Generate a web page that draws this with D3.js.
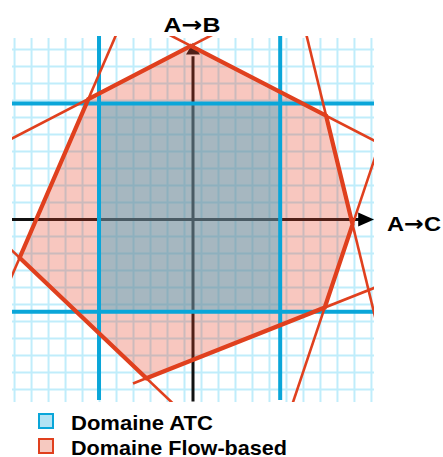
<!DOCTYPE html>
<html>
<head>
<meta charset="utf-8">
<script src="https://cdn.jsdelivr.net/npm/d3@7"></script>
<style>
  html, body { margin: 0; padding: 0; background: #fff; }
  svg { display: block; }
  text { font-family: "Liberation Sans", Arial, Helvetica, sans-serif; font-weight: bold; fill: #000; }
  .arrowglyph { font-family: "DejaVu Sans", sans-serif; font-weight: bold; }
</style>
</head>
<body>
<div id="chart"></div>
<script>
// axis labels (origin, arrow, destination)
var axisFrom = ["A", "A"];
var axisTo = ["B", "C"];

// legend entries
var legendLabels = ["Domaine ATC", "Domaine Flow-based"];

// ATC domain (box of the two exchanges)
var atcX = [-5.53, 5.13];
var atcY = [-5.42, 6.83];

// flow-based constraints, each one a straight line (segment ends)
var constraintIds = ["l1", "l7", "l6", "l5", "l4", "l3", "l2"];
var constraintX1 = [-11.0, -1.5, 6.6, 5.8, -3.53, -11.0, -11.0];
var constraintY1 = [4.58, 10.92, 11.16, -11.0, -9.65, -1.49, -4.10];
var constraintX2 = [1.5, 11.0, 10.8, 10.8, 10.8, -1.0, -4.4];
var constraintY2 = [11.05, 4.47, -6.09, 3.92, -3.97, -10.99, 11.15];

var width = 443, height = 457;

var svg = d3.select("#chart")
    .append("svg")
    .attr("width", width)
    .attr("height", height);

var x = d3.scaleLinear().domain([-10.65, 10.65]).range([12, 374]);
var y = d3.scaleLinear().domain([-10.7, 10.7]).range([401.4, 37.6]);

var red = "#e0401e";
var blue = "#0aa6d9";

svg.append("defs").append("clipPath")
    .attr("id", "plotclip")
    .append("rect")
    .attr("x", 12).attr("y", 36)
    .attr("width", 362).attr("height", 366);

var plot = svg.append("g").attr("clip-path", "url(#plotclip)");

// grid
plot.append("g")
    .selectAll("line")
    .data(d3.range(-10.5, 10.6, 1))
    .enter()
    .append("line")
    .attr("x1", function (d) { return x(d); })
    .attr("x2", function (d) { return x(d); })
    .attr("y1", 38)
    .attr("y2", 402)
    .attr("stroke", "#c0edfb")
    .attr("stroke-width", 2);

plot.append("g")
    .selectAll("line")
    .data(d3.range(-10, 10.5, 1))
    .enter()
    .append("line")
    .attr("x1", 12)
    .attr("x2", 374)
    .attr("y1", function (d) { return y(d); })
    .attr("y2", function (d) { return y(d); })
    .attr("stroke", "#c0edfb")
    .attr("stroke-width", 2);

// axes with arrow heads
plot.append("line")
    .attr("x1", x(-10.65)).attr("x2", x(9.8))
    .attr("y1", y(0)).attr("y2", y(0))
    .attr("stroke", "#111").attr("stroke-width", 3);
plot.append("line")
    .attr("x1", x(0)).attr("x2", x(0))
    .attr("y1", y(-10.7)).attr("y2", y(9.6))
    .attr("stroke", "#111").attr("stroke-width", 3);

var arrowC = d3.path();
arrowC.moveTo(x(9.72), y(0) - 7);
arrowC.lineTo(x(10.65), y(0));
arrowC.lineTo(x(9.72), y(0) + 7);
arrowC.closePath();
svg.append("path").attr("d", arrowC.toString()).attr("fill", "#000");

var arrowB = d3.path();
arrowB.moveTo(x(0) - 7, y(9.7));
arrowB.lineTo(x(0), y(10.4));
arrowB.lineTo(x(0) + 7, y(9.7));
arrowB.closePath();
plot.append("path").attr("d", arrowB.toString()).attr("fill", "#111");

// constraint lines
var constraints = constraintIds.map(function (id, i) {
    return {
        id: id,
        x1: constraintX1[i], y1: constraintY1[i],
        x2: constraintX2[i], y2: constraintY2[i]
    };
});

function intersect(a, b) {
    var d = (a.x1 - a.x2) * (b.y1 - b.y2) - (a.y1 - a.y2) * (b.x1 - b.x2);
    var t = ((a.x1 - b.x1) * (b.y1 - b.y2) - (a.y1 - b.y1) * (b.x1 - b.x2)) / d;
    return [a.x1 + t * (a.x2 - a.x1), a.y1 + t * (a.y2 - a.y1)];
}

// flow-based domain = polygon made by consecutive constraints
var domain = constraints.map(function (c, i) {
    var prev = constraints[(i + constraints.length - 1) % constraints.length];
    return intersect(prev, c);
});

var lineGen = d3.line()
    .x(function (d) { return x(d[0]); })
    .y(function (d) { return y(d[1]); });

plot.append("path")
    .datum(domain)
    .attr("d", function (d) { return lineGen(d) + "Z"; })
    .attr("fill", "#e8472a")
    .attr("fill-opacity", 0.3)
    .attr("stroke", "none");

// ATC box fill
plot.append("rect")
    .attr("x", x(atcX[0]))
    .attr("y", y(atcY[1]))
    .attr("width", x(atcX[1]) - x(atcX[0]))
    .attr("height", y(atcY[0]) - y(atcY[1]))
    .attr("fill", "rgb(66,164,193)")
    .attr("fill-opacity", 0.45);

// ATC limits
plot.append("g")
    .selectAll("line")
    .data(atcX)
    .enter()
    .append("line")
    .attr("x1", function (d) { return x(d); })
    .attr("x2", function (d) { return x(d); })
    .attr("y1", 35)
    .attr("y2", 400)
    .attr("stroke", blue)
    .attr("stroke-width", 4);

plot.append("g")
    .selectAll("line")
    .data(atcY)
    .enter()
    .append("line")
    .attr("x1", 12)
    .attr("x2", 374)
    .attr("y1", function (d) { return y(d); })
    .attr("y2", function (d) { return y(d); })
    .attr("stroke", blue)
    .attr("stroke-width", 4);

// thin constraint lines
plot.append("g")
    .selectAll("line")
    .data(constraints)
    .enter()
    .append("line")
    .attr("x1", function (d) { return x(d.x1); })
    .attr("y1", function (d) { return y(d.y1); })
    .attr("x2", function (d) { return x(d.x2); })
    .attr("y2", function (d) { return y(d.y2); })
    .attr("stroke", red)
    .attr("stroke-width", 2.6);

// thick outline of the flow-based domain
plot.append("path")
    .datum(domain)
    .attr("d", function (d) { return lineGen(d) + "Z"; })
    .attr("fill", "none")
    .attr("stroke", red)
    .attr("stroke-width", 4.2)
    .attr("stroke-linejoin", "miter");

// axis labels
var labelPos = [[163.5, 31.5, 57], [387, 230.5, 54]];

var axisText = svg.append("g")
    .selectAll("text")
    .data(axisFrom)
    .enter()
    .append("text")
    .attr("x", function (d, i) { return labelPos[i][0]; })
    .attr("y", function (d, i) { return labelPos[i][1]; })
    .attr("font-size", 21)
    .attr("textLength", function (d, i) { return labelPos[i][2]; })
    .attr("lengthAdjust", "spacingAndGlyphs");

axisText.append("tspan").text(function (d) { return d; });
axisText.append("tspan").attr("class", "arrowglyph").text("\u2192");
axisText.append("tspan").text(function (d, i) { return axisTo[i]; });

// legend
var legendFill = ["#b3e3f4", "#f6c9c0"];
var legendStroke = [blue, red];
var legendWidth = [142, 216];

var legend = svg.append("g")
    .selectAll("g")
    .data(legendLabels)
    .enter()
    .append("g")
    .attr("transform", function (d, i) { return "translate(0," + (i * 25) + ")"; });

legend.append("rect")
    .attr("x", 39)
    .attr("y", 414)
    .attr("width", 14)
    .attr("height", 14)
    .attr("fill", function (d, i) { return legendFill[i]; })
    .attr("stroke", function (d, i) { return legendStroke[i]; })
    .attr("stroke-width", 2);

legend.append("text")
    .attr("x", 71)
    .attr("y", 429.5)
    .attr("font-size", 20.5)
    .attr("textLength", function (d, i) { return legendWidth[i]; })
    .attr("lengthAdjust", "spacingAndGlyphs")
    .text(function (d) { return d; });
</script>
</body>
</html>
